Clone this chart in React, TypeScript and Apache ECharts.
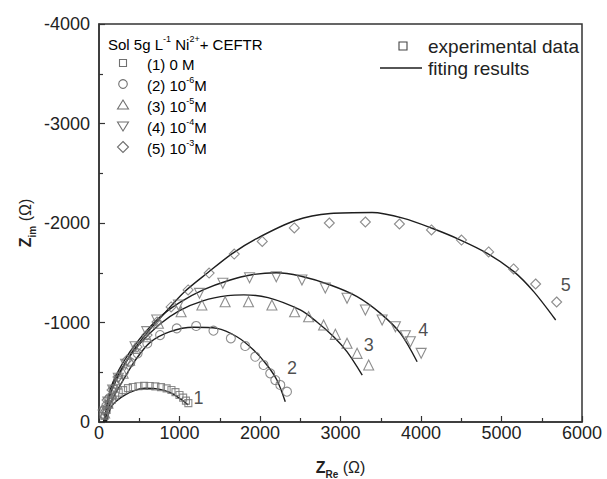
import React, { useEffect, useRef } from "react";
import * as echarts from "echarts";

// Experimental data: [Z_Re (Ω), -Z_im (Ω)]
const exp1: number[][] = [[70,60],[95,120],[125,180],[160,225],[200,265],[245,295],[300,320],[360,340],[420,352],[490,360],[560,363],[630,362],[700,358],[770,350],[840,338],[900,322],[950,300],[1000,272],[1045,245],[1080,215],[1110,190]];
const exp2: number[][] = [[60,80],[90,160],[130,240],[180,330],[240,420],[310,510],[390,600],[480,690],[600,790],[759,874],[966,941],[1207,965],[1422,918],[1638,841],[1816,764],[1941,656],[2044,573],[2127,489],[2190,422],[2252,372],[2335,305]];
const exp3: number[][] = [[70,90],[110,190],[160,290],[220,390],[300,490],[380,620],[448,740],[593,857],[738,992],[1020,1108],[1278,1176],[1567,1209],[1857,1209],[2148,1176],[2430,1108],[2604,1058],[2790,975],[2936,881],[3081,791],[3206,690],[3350,573]];
const exp4: number[][] = [[70,100],[110,200],[170,320],[240,440],[330,580],[448,757],[593,908],[717,1025],[987,1176],[1248,1293],[1538,1394],[1870,1450],[2202,1460],[2521,1427],[2811,1347],[3081,1243],[3309,1126],[3517,1025],[3682,958],[3806,867],[3868,807],[4002,690]];
const exp5: number[][] = [[50,120],[100,221],[162,322],[236,452],[348,623],[473,754],[597,874],[721,1005],[896,1156],[1107,1327],[1368,1497],[1680,1688],[2028,1815],[2426,1950],[2861,2000],[3309,2010],[3732,1990],[4130,1930],[4503,1829],[4840,1709],[5150,1538],[5424,1387],[5685,1206]];

// Fitting results: [Z_Re (Ω), -Z_im (Ω)]
const fit1: number[][] = [[90,0],[153,154],[230,220],[320,271],[440,315],[568,339],[700,335],[817,315],[910,285],[983,248],[1050,210],[1107,171]];
const fit2: number[][] = [[54,0],[160,220],[300,420],[450,620],[635,800],[883,908],[1173,952],[1464,941],[1713,857],[1920,724],[2086,573],[2210,422],[2314,204]];
const fit3: number[][] = [[60,0],[150,330],[300,560],[500,780],[750,980],[1000,1120],[1300,1220],[1600,1270],[1800,1278],[2100,1250],[2500,1126],[2700,1010],[2915,857],[3080,707],[3270,472]];
const fit4: number[][] = [[60,0],[150,350],[300,600],[500,830],[750,1050],[1000,1200],[1300,1330],[1600,1420],[1900,1480],[2200,1500],[2500,1467],[2874,1377],[3206,1260],[3496,1092],[3745,891],[3952,606]];
const fit5: number[][] = [[80,0],[130,250],[250,480],[400,690],[600,900],[800,1080],[1050,1300],[1350,1500],[1650,1690],[1950,1840],[2438,2025],[2874,2095],[3392,2105],[3786,2047],[4138,1947],[4491,1829],[4823,1695],[5154,1511],[5400,1310],[5673,1025]];

const curveLabels: [number, number, string][] = [[1235,238,"1"],[2397,540,"2"],[3350,774,"3"],[4027,925,"4"],[5797,1377,"5"]];

const xTicks = { min: 0, max: 6000, interval: 1000 };
const yTicks = { min: -4000, max: 0, interval: 1000 };

const legendTitle = "Sol 5g L";
const legendLabels = [
  ["(1) 0 M"],
  ["(2) 10", "-6", "M"],
  ["(3) 10", "-5", "M"],
  ["(4) 10", "-4", "M"],
  ["(5) 10", "-3", "M"],
];

const FONT = 'Arial, "Liberation Sans", sans-serif';
const MARK = "#707070";
const LINE = "#1e1e1e";

const neg = (d: number[][]) => d.map((p) => [p[0], -p[1]]);

export default function App() {
  const ref = useRef<HTMLDivElement>(null);
  useEffect(() => {
    if (!ref.current) return;
    const chart = echarts.init(ref.current, undefined, { renderer: "svg" });
    const exps = [exp1, exp2, exp3, exp4, exp5];
    const fits = [fit1, fit2, fit3, fit4, fit5];
    const symbols = ["rect", "circle", "triangle", "triangle", "diamond"];
    const rot = [0, 0, 0, 180, 0];
    const sizes = [7, 9, 10, 10, 10];
    const series: any[] = [];
    fits.forEach((f) => {
      series.push({
        type: "line",
        data: neg(f),
        showSymbol: false,
        smooth: 0.3,
        lineStyle: { color: LINE, width: 1.4 },
        silent: true,
        z: 3,
      });
    });
    exps.forEach((e, i) => {
      series.push({
        type: "scatter",
        data: neg(e),
        symbol: symbols[i],
        symbolRotate: rot[i],
        symbolSize: sizes[i],
        itemStyle: { color: "rgba(0,0,0,0)", borderColor: MARK, borderWidth: 1.1 },
        z: 4,
      });
    });
    series.push({
      type: "scatter",
      data: curveLabels.map((c) => ({ value: [c[0], -c[1]], name: c[2] })),
      symbol: "circle",
      symbolSize: 1,
      itemStyle: { color: "rgba(0,0,0,0)" },
      label: {
        show: true,
        position: "inside",
        formatter: (p: any) => p.name,
        fontSize: 18,
        color: LINE,
        fontFamily: FONT,
      },
      z: 5,
    });

    const legendItems: any[] = [];
    const rowY = [63, 84, 105, 126, 147];
    const sx = 123;
    legendItems.push({ type: "rect", shape: { x: sx - 3.5, y: rowY[0] - 3.5, width: 7, height: 7 }, style: { fill: "none", stroke: MARK, lineWidth: 1.1 } });
    legendItems.push({ type: "circle", shape: { cx: sx, cy: rowY[1], r: 4.3 }, style: { fill: "none", stroke: MARK, lineWidth: 1.1 } });
    legendItems.push({ type: "polygon", shape: { points: [[sx, rowY[2] - 5], [sx + 5.5, rowY[2] + 4], [sx - 5.5, rowY[2] + 4]] }, style: { fill: "none", stroke: MARK, lineWidth: 1.1 } });
    legendItems.push({ type: "polygon", shape: { points: [[sx, rowY[3] + 5], [sx + 5.5, rowY[3] - 4], [sx - 5.5, rowY[3] - 4]] }, style: { fill: "none", stroke: MARK, lineWidth: 1.1 } });
    legendItems.push({ type: "polygon", shape: { points: [[sx, rowY[4] - 5.5], [sx + 5.5, rowY[4]], [sx, rowY[4] + 5.5], [sx - 5.5, rowY[4]]] }, style: { fill: "none", stroke: MARK, lineWidth: 1.1 } });

    const rich = {
      n: { fontSize: 15, fontFamily: FONT, color: "#222", lineHeight: 18, verticalAlign: "bottom" },
      s: { fontSize: 9, fontFamily: FONT, color: "#222", lineHeight: 11, verticalAlign: "top" },
    };
    legendItems.push({
      type: "text",
      x: 108,
      y: 43,
      style: {
        text: `{n|${legendTitle}}{s|-1}{n| Ni}{s|2+}{n|+ CEFTR}`,
        rich,
        verticalAlign: "middle",
      },
    });
    legendLabels.forEach((l, i) => {
      const t = l.length === 3 ? `{n|${l[0]}}{s|${l[1]}}{n|${l[2]}}` : `{n|${l[0]}}`;
      legendItems.push({
        type: "text",
        x: 147,
        y: rowY[i],
        style: { text: t, rich, verticalAlign: "middle" },
      });
    });
    legendItems.push({ type: "rect", shape: { x: 399, y: 42, width: 8, height: 8 }, style: { fill: "none", stroke: "#444", lineWidth: 1.1 } });
    legendItems.push({ type: "text", x: 428, y: 46, style: { text: "experimental data", fontSize: 19, fontFamily: FONT, fill: "#222", verticalAlign: "middle" } });
    legendItems.push({ type: "line", shape: { x1: 380, y1: 68, x2: 422, y2: 68 }, style: { stroke: LINE, lineWidth: 1.4 } });
    legendItems.push({ type: "text", x: 428, y: 68, style: { text: "fiting results", fontSize: 19, fontFamily: FONT, fill: "#222", verticalAlign: "middle" } });

    const axisCommon = {
      axisLine: { show: true, onZero: false, lineStyle: { color: "#333", width: 1.5 } },
      axisTick: { show: true, inside: true, length: 6, lineStyle: { color: "#333", width: 1.2 } },
      minorTick: { show: true, splitNumber: 2, length: 4, lineStyle: { color: "#333", width: 1.2 } },
      splitLine: { show: false },
      minorSplitLine: { show: false },
      axisLabel: { fontSize: 18, color: "#222", fontFamily: FONT, formatter: (v: number) => String(v) },
    };
    const nameRich = {
      b: { fontSize: 16, fontWeight: "bold", fontFamily: FONT, color: "#222", lineHeight: 24, verticalAlign: "middle" },
      sub: { fontSize: 10, fontWeight: "bold", fontFamily: FONT, color: "#222", lineHeight: 10, verticalAlign: "bottom" },
      p: { fontSize: 16, fontFamily: FONT, color: "#222", lineHeight: 24, verticalAlign: "middle" },
    };

    chart.setOption({
      animation: false,
      backgroundColor: "#fff",
      grid: { left: 99, right: 25, top: 24, bottom: 57, show: true, borderColor: "#333", borderWidth: 1.5, backgroundColor: "transparent", outerBoundsMode: "none", containLabel: false },
      xAxis: {
        type: "value",
        ...xTicks,
        ...axisCommon,
        axisLabel: { ...axisCommon.axisLabel, margin: 2 },
        name: "{b|Z}{sub|Re}{p| (Ω)}",
        nameLocation: "middle",
        nameGap: 33,
        nameMoveOverlap: false,
        nameTextStyle: { rich: nameRich },
      },
      yAxis: {
        type: "value",
        ...yTicks,
        inverse: true,
        ...axisCommon,
        axisLabel: { ...axisCommon.axisLabel, margin: 9 },
        name: "{b|Z}{sub|im}{p| (Ω)}",
        nameLocation: "middle",
        nameGap: 62,
        nameMoveOverlap: false,
        nameTextStyle: { rich: nameRich },
      },
      graphic: legendItems,
      series,
    });
    return () => chart.dispose();
  }, []);
  return <div ref={ref} style={{ position: "absolute", left: 0, top: 0, width: 607, height: 479 }} />;
}
